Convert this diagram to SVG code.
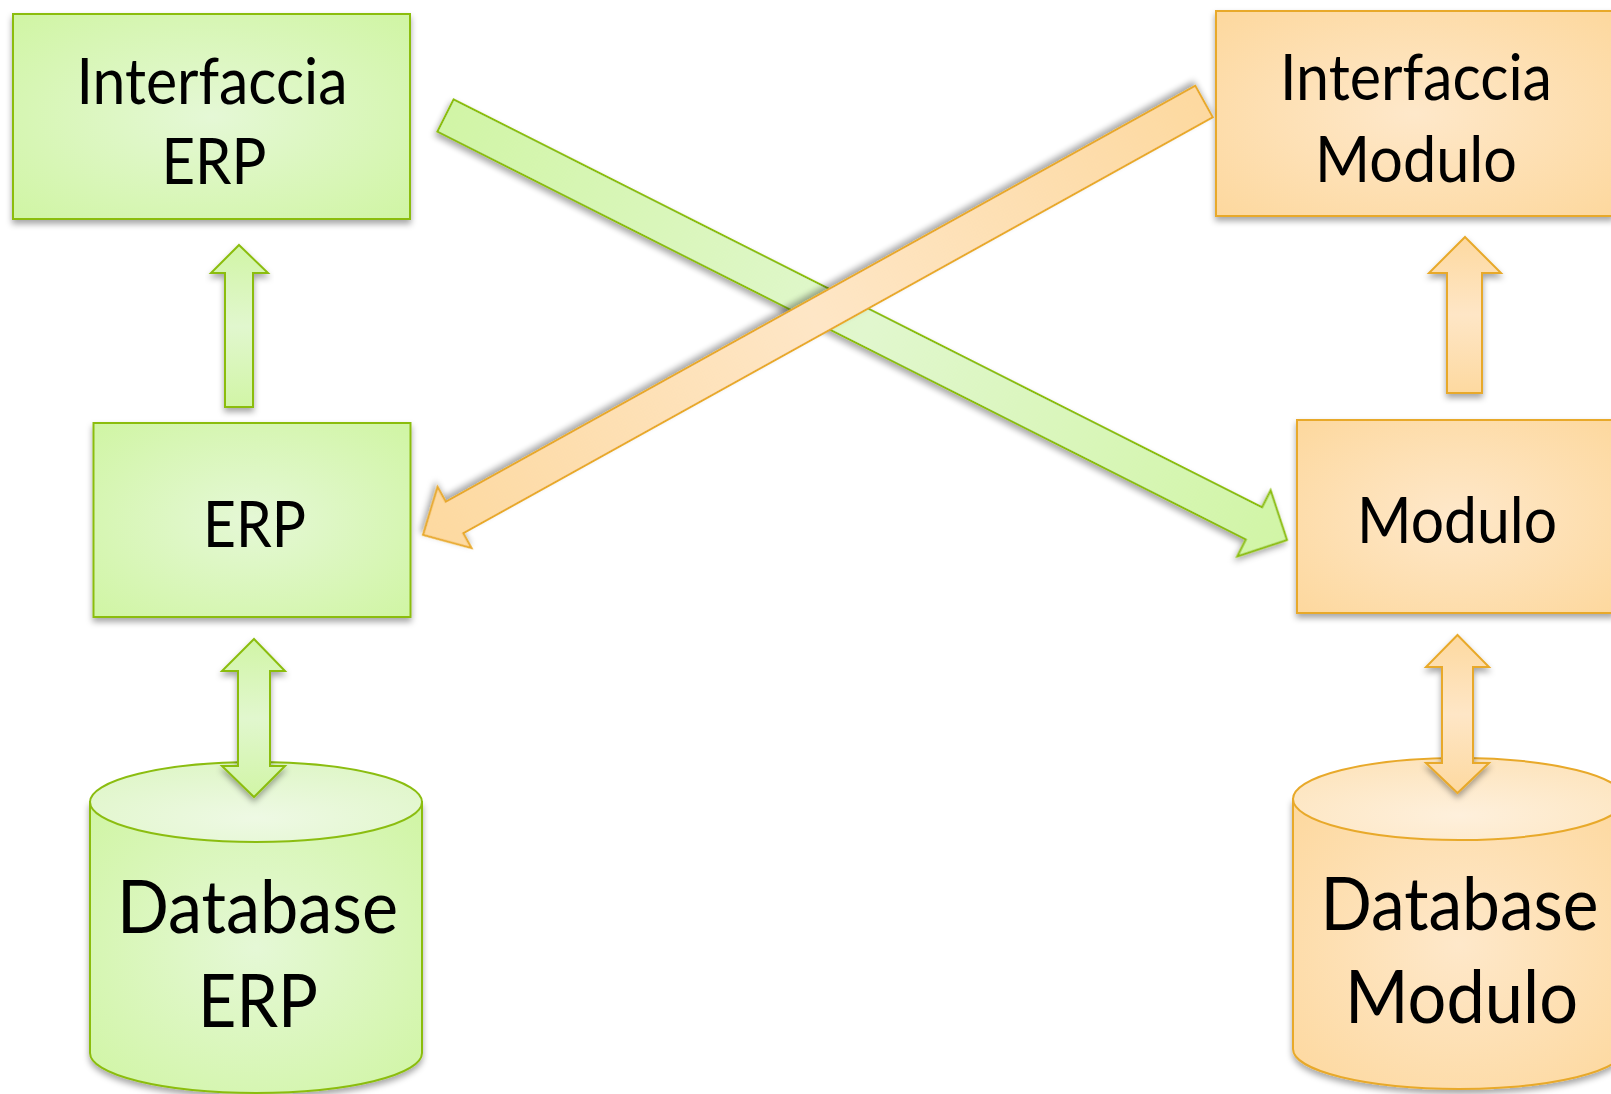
<svg xmlns="http://www.w3.org/2000/svg" width="1611" height="1094" viewBox="0 0 1611 1094">
<style>
.g{stroke:#8bbd10;stroke-width:2}
.o{stroke:#e8a92a;stroke-width:2}
.gb{fill:url(#gRad)}
.ob{fill:url(#oRad)}
.t{font-family:Lato,"Open Sans",sans-serif;fill:#000;text-anchor:middle}
.tb{font-size:64px}
.tc{font-size:74px}
.sh{filter:url(#shadow)}
</style>
<defs>
<radialGradient id="gRad" cx="0.5" cy="0.5" r="0.7">
<stop offset="0" stop-color="#e5f8d6"/>
<stop offset="1" stop-color="#d0f5a4"/>
</radialGradient>
<radialGradient id="oRad" cx="0.5" cy="0.5" r="0.7">
<stop offset="0" stop-color="#fee8ca"/>
<stop offset="1" stop-color="#fdd89e"/>
</radialGradient>
<radialGradient id="gTop" cx="0.5" cy="0.7" r="0.7">
<stop offset="0" stop-color="#eef9e4"/>
<stop offset="1" stop-color="#dff6c8"/>
</radialGradient>
<radialGradient id="oTop" cx="0.5" cy="0.7" r="0.7">
<stop offset="0" stop-color="#fef0dc"/>
<stop offset="1" stop-color="#fde4bd"/>
</radialGradient>
<linearGradient id="gLin" x1="0" y1="0" x2="1" y2="0">
<stop offset="0" stop-color="#d1f5a6"/>
<stop offset="0.5" stop-color="#e1f7ce"/>
<stop offset="1" stop-color="#d1f5a6"/>
</linearGradient>
<linearGradient id="oLin" x1="0" y1="0" x2="1" y2="0">
<stop offset="0" stop-color="#fdd9a0"/>
<stop offset="0.5" stop-color="#fee6c6"/>
<stop offset="1" stop-color="#fdd9a0"/>
</linearGradient>
<linearGradient id="gV" x1="0" y1="0" x2="0" y2="1">
<stop offset="0" stop-color="#d1f5a6"/>
<stop offset="0.5" stop-color="#e1f7ce"/>
<stop offset="1" stop-color="#d1f5a6"/>
</linearGradient>
<linearGradient id="oV" x1="0" y1="0" x2="0" y2="1">
<stop offset="0" stop-color="#fdd9a0"/>
<stop offset="0.5" stop-color="#fee6c6"/>
<stop offset="1" stop-color="#fdd9a0"/>
</linearGradient>
<filter id="shadow" x="-10%" y="-10%" width="120%" height="130%">
<feDropShadow dx="0" dy="4" stdDeviation="3" flood-color="#000" flood-opacity="0.35"/>
</filter>
</defs>
<rect width="1611" height="1094" fill="#fff"/>

<g id="interfaccia-erp">
<rect class="g gb sh" x="13" y="14" width="397" height="205"/>
<text class="t tb"><tspan x="212" y="104" textLength="271" lengthAdjust="spacingAndGlyphs">Interfaccia</tspan><tspan x="214" y="184" textLength="105" lengthAdjust="spacingAndGlyphs">ERP</tspan></text>
</g>

<g id="erp">
<rect class="g gb sh" x="93.5" y="423" width="317" height="194"/>
<text class="t tb" x="254.5" y="547" textLength="103" lengthAdjust="spacingAndGlyphs">ERP</text>
</g>

<g id="database-erp">
<path class="g gb sh" d="M90,802 L90,1053 A166,40 0 0 0 422,1053 L422,802 Z"/>
<ellipse class="g" fill="url(#gTop)" cx="256" cy="802" rx="166" ry="40"/>
<text class="t tc"><tspan x="257.5" y="933" textLength="281" lengthAdjust="spacingAndGlyphs">Database</tspan><tspan x="258" y="1027" textLength="120" lengthAdjust="spacingAndGlyphs">ERP</tspan></text>
</g>

<g id="interfaccia-modulo">
<rect class="o ob sh" x="1216" y="11" width="397" height="205"/>
<text class="t tb"><tspan x="1416" y="100" textLength="272" lengthAdjust="spacingAndGlyphs">Interfaccia</tspan><tspan x="1416" y="182" textLength="202" lengthAdjust="spacingAndGlyphs">Modulo</tspan></text>
</g>

<g id="modulo">
<rect class="o ob sh" x="1297" y="420" width="317" height="193"/>
<text class="t tb" x="1457" y="543" textLength="200" lengthAdjust="spacingAndGlyphs">Modulo</text>
</g>

<g id="database-modulo">
<path class="o ob sh" d="M1293,799 L1293,1049 A166,40 0 0 0 1625,1049 L1625,799 Z"/>
<ellipse class="o" fill="url(#oTop)" cx="1459" cy="799" rx="166" ry="41"/>
<text class="t tc"><tspan x="1459.5" y="930" textLength="278" lengthAdjust="spacingAndGlyphs">Database</tspan><tspan x="1461.5" y="1023" textLength="233" lengthAdjust="spacingAndGlyphs">Modulo</tspan></text>
</g>

<g id="connectors">
<polygon class="g sh" fill="url(#gV)" points="239,245 268,273 253,273 253,407 225,407 225,273 211,273"/>
<polygon class="g sh" fill="url(#gV)" points="254,639 285,671 270,671 270,766 285,766 254,797 222,766 238,766 238,671 222,671"/>
<polygon class="o sh" fill="url(#oV)" points="1465,237 1501,273 1482,273 1482,393 1447,393 1447,273 1429,273"/>
<polygon class="o sh" fill="url(#oV)" points="1457.5,635 1489,667 1473,667 1473,763 1489,763 1457.5,793 1426,763 1442,763 1442,667 1426,667"/>
<polygon class="g sh" fill="url(#gLin)" transform="translate(445.5,115.5) rotate(26.77)" points="0,-18 905.5,-18 905.5,-37 942.5,0 905.5,37 905.5,18 0,18"/>
<polygon class="o sh" fill="url(#oLin)" transform="translate(1204,101.5) rotate(150.97)" points="0,-18 857.2,-18 857.2,-35 893.2,0 857.2,35 857.2,18 0,18"/>
</g>
</svg>
